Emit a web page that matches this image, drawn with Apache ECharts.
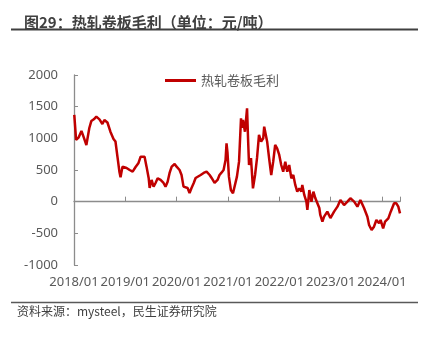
<!DOCTYPE html>
<html>
<head>
<meta charset="utf-8">
<script src="https://cdn.jsdelivr.net/npm/echarts@6/dist/echarts.min.js"></script>
<style>
html,body{margin:0;padding:0;background:#fff;}
#c{width:425px;height:341px;}
</style>
</head>
<body>
<div id="c"></div>
<script>
const titleText = '图29：热轧卷板毛利（单位：元/吨）';
const sourceText = '资料来源：mysteel，民生证券研究院';
const seriesName = '热轧卷板毛利';
const yTicks = [-1000, -500, 0, 500, 1000, 1500, 2000];
const xStart = '2018-01-01';
const xEnd = '2024-05-08';

const dates = [
'2018-01-03','2018-01-16','2018-02-02','2018-02-23','2018-03-09','2018-03-30','2018-04-20','2018-05-04','2018-05-22','2018-06-09',
'2018-07-01','2018-07-22','2018-08-05','2018-08-27','2018-09-17','2018-10-09','2018-10-23','2018-11-06','2018-11-20','2018-11-28',
'2018-12-12','2018-12-26','2019-01-10','2019-02-01','2019-02-22','2019-03-01','2019-03-15','2019-04-05','2019-04-20','2019-05-04',
'2019-05-18','2019-06-01','2019-06-16','2019-06-23','2019-07-07','2019-07-21','2019-08-04','2019-08-19','2019-09-09','2019-09-30',
'2019-10-14','2019-10-29','2019-11-12','2019-11-27','2019-12-18','2020-01-01','2020-01-22','2020-02-05','2020-02-19','2020-03-04',
'2020-03-19','2020-04-02','2020-04-16','2020-05-01','2020-05-15','2020-05-29','2020-06-20','2020-07-11','2020-08-01','2020-08-23',
'2020-09-06','2020-09-27','2020-10-18','2020-11-01','2020-11-15','2020-11-30','2020-12-14','2020-12-21','2020-12-28','2021-01-07',
'2021-01-21','2021-02-05','2021-02-19','2021-03-05','2021-03-20','2021-04-03','2021-04-10','2021-04-17','2021-05-01','2021-05-16',
'2021-05-23','2021-05-30','2021-06-13','2021-06-27','2021-07-12','2021-07-26','2021-08-09','2021-08-24','2021-09-08','2021-09-15',
'2021-09-22','2021-10-06','2021-10-20','2021-11-04','2021-11-18','2021-12-02','2021-12-16','2021-12-31','2022-01-14','2022-01-28',
'2022-02-12','2022-02-26','2022-03-12','2022-03-27','2022-04-10','2022-04-24','2022-05-08','2022-05-23','2022-06-06','2022-06-13',
'2022-06-27','2022-07-12','2022-07-19','2022-08-02','2022-08-17','2022-08-31','2022-09-14','2022-09-28','2022-10-12','2022-10-19',
'2022-11-03','2022-11-15','2022-12-08','2022-12-30','2023-01-25','2023-02-18','2023-03-11','2023-04-06','2023-04-30','2023-05-21',
'2023-06-17','2023-07-10','2023-07-31','2023-08-26','2023-09-19','2023-10-01','2023-10-19','2023-11-05','2023-11-22','2023-12-11',
'2023-12-22','2024-01-09','2024-01-23','2024-02-15','2024-03-03','2024-03-27','2024-04-12','2024-04-26','2024-05-08'
];
const values = [
1369,975,1010,1116,1030,895,1163,1273,1300,1342,
1300,1227,1290,1250,1105,990,950,710,474,385,
553,564,532,500,474,453,548,611,710,737,
710,553,374,216,343,237,295,369,343,295,
237,316,453,553,595,553,500,421,237,264,
216,137,216,290,374,395,421,453,474,421,
374,295,343,421,458,500,658,922,769,395,
184,132,150,395,632,1317,1164,1290,1105,1475,
1001,579,690,211,421,690,1053,947,1001,1184,
1105,947,685,421,632,895,843,737,579,474,
632,474,579,369,421,264,158,211,158,264,
106,0,-131,184,0,158,53,58,-100,-210,
-316,-237,-158,-258,-158,-79,26,-53,0,53,
0,-79,26,-100,-237,-368,-447,-395,-289,-342,
-289,-421,-316,-263,-158,-26,-26,-79,-184
];

const lineData = dates.map((d, i) => [d, values[i]]);
const FONT = '"Noto Sans", "Noto Sans CJK SC", sans-serif';
const pad2 = n => (n < 10 ? '0' : '') + n;
const fmt = v => { const d = new Date(v); return d.getFullYear() + '/' + pad2(d.getMonth() + 1); };
const YEAR = 365 * 24 * 3600 * 1000;

const chart = echarts.init(document.getElementById('c'), null, {renderer: 'canvas'});
chart.setOption({
  animation: false,
  backgroundColor: '#fff',
  textStyle: {fontFamily: FONT},
  title: {
    text: titleText, left: 19, top: 10,
    textStyle: {fontSize: 15, fontWeight: 'bold', color: '#404040', fontFamily: '"Noto Sans CJK SC", sans-serif'}
  },
  legend: {
    left: 160, top: 69,
    icon: 'rect',
    itemWidth: 31, itemHeight: 3, itemGap: 10,
    textStyle: {fontSize: 13, color: '#595959', fontFamily: '"Noto Sans CJK SC", sans-serif'},
    data: [seriesName]
  },
  grid: {left: 74, right: 25, top: 75, bottom: 76},
  xAxis: [{
    type: 'time',
    min: xStart, max: xEnd,
    minInterval: YEAR, maxInterval: YEAR * 1.01,
    axisLine: {onZero: true, lineStyle: {color: '#8c8c8c', width: 1.3}},
    axisTick: {show: true, inside: true, length: 5, lineStyle: {color: '#8c8c8c'}},
    axisLabel: {show: false},
    splitLine: {show: false}
  }, {
    type: 'time',
    position: 'bottom',
    min: xStart, max: xEnd,
    minInterval: YEAR, maxInterval: YEAR * 1.01,
    axisLine: {show: false, onZero: false},
    axisTick: {show: false},
    splitLine: {show: false},
    axisLabel: {
      show: true, margin: 11, fontSize: 13, color: '#595959', hideOverlap: false,
      showMinLabel: true, showMaxLabel: false,
      formatter: v => fmt(v)
    }
  }],
  yAxis: {
    type: 'value',
    min: yTicks[0], max: yTicks[yTicks.length - 1], interval: 500,
    axisLine: {show: true, onZero: false, lineStyle: {color: '#8c8c8c', width: 1.3}},
    axisTick: {show: true, inside: true, length: 4, lineStyle: {color: '#8c8c8c'}},
    axisLabel: {margin: 16, fontSize: 13, color: '#595959', formatter: v => String(v)},
    splitLine: {show: false}
  },
  series: [{
    name: seriesName,
    type: 'line',
    xAxisIndex: 0,
    symbol: 'none',
    data: lineData,
    lineStyle: {color: '#C00000', width: 2.5},
    itemStyle: {color: '#C00000'}
  }],
  graphic: [
    {type: 'line', shape: {x1: 11, y1: 29.5, x2: 418, y2: 29.5}, style: {stroke: '#404040', lineWidth: 2}},
    {type: 'line', shape: {x1: 11, y1: 302.5, x2: 418, y2: 302.5}, style: {stroke: '#595959', lineWidth: 1.5}},
    {type: 'text', left: 17, top: 305, style: {text: sourceText, fontSize: 12, fill: '#404040', fontFamily: '"Noto Sans CJK SC", sans-serif'}}
  ]
});
</script>
</body>
</html>
